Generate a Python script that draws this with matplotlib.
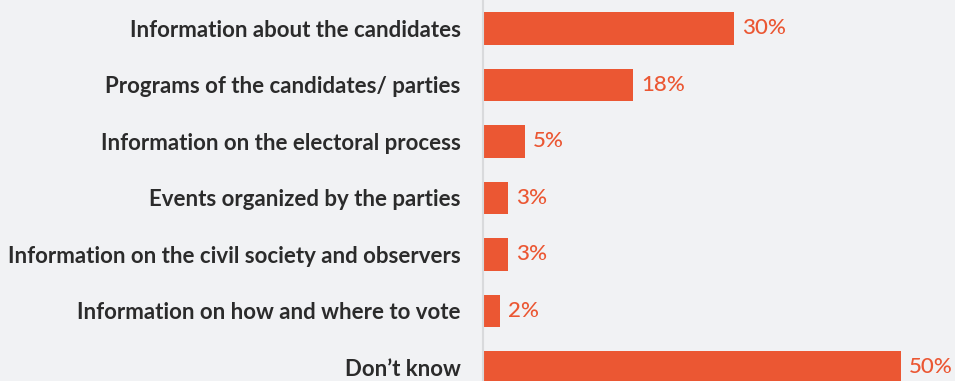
import matplotlib
matplotlib.use("Agg")
from matplotlib import pyplot as plt

categories = [
    "Information about the candidates",
    "Programs of the candidates/ parties",
    "Information on the electoral process",
    "Events organized by the parties",
    "Information on the civil society and observers",
    "Information on how and where to vote",
    "Don\u2019t know",
]
values = [30, 18, 5, 3, 3, 2, 50]

bg = "#f1f2f4"
bar_color = "#eb5733"
text_color = "#2b2b2b"

fig = plt.figure(figsize=(9.55, 3.81), dpi=100, facecolor=bg)
ax = fig.add_axes([483 / 955, 0, 1 - 483 / 955, 1], facecolor=bg)

pos = list(range(len(categories)))
ax.barh(pos, values, height=0.58, color=bar_color, zorder=2)

# percentage next to each bar
for y, v in zip(pos, values):
    ax.annotate(f"{v}%", (v, y), xytext=(6, 0), textcoords="offset points",
                va="center", ha="left", color=bar_color, fontsize=16,
                family="Lato", fontweight="medium", clip_on=False)

ax.set_xlim(0, 56.5)
ax.set_ylim(6.24, -0.504)
ax.set_yticks(pos)
ax.set_yticklabels(categories, fontsize=16, family="Lato", fontweight="bold",
                   color=text_color)
ax.tick_params(axis="y", length=0, pad=16)
ax.set_xticks([])

for side in ["top", "right", "bottom"]:
    ax.spines[side].set_visible(False)
ax.spines["left"].set_color("#d9dadc")
ax.spines["left"].set_linewidth(1.5)

fig.savefig("out.png", dpi=100, facecolor=bg)
